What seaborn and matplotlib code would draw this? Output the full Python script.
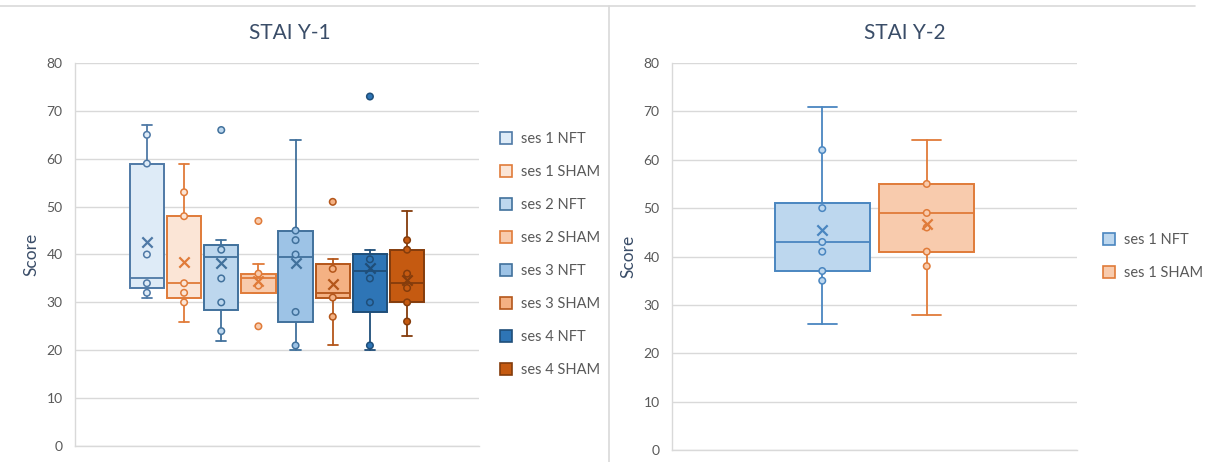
import numpy as np
import pandas as pd
import matplotlib
matplotlib.use("Agg")
import matplotlib.pyplot as plt
from matplotlib.patches import Patch
from matplotlib.lines import Line2D
import seaborn as sns

# ---------------- data ----------------
groups1 = ["ses 1 NFT", "ses 1 SHAM", "ses 2 NFT", "ses 2 SHAM",
           "ses 3 NFT", "ses 3 SHAM", "ses 4 NFT", "ses 4 SHAM"]
whislo1 = [31, 26, 22, 32, 20, 21, 20, 23]
q1_1 = [33, 31, 28.5, 32, 26, 31, 28, 30]
med1 = [35, 34, 39.5, 35, 39.5, 32, 36.5, 34]
q3_1 = [59, 48, 42, 36, 45, 38, 40, 41]
whishi1 = [67, 59, 43, 38, 64, 39, 41, 49]
mean1 = [42.7, 38.5, 38.3, 34.4, 38.3, 33.8, 37.1, 34.7]
points1 = [[65, 59, 40, 34, 32],
           [53, 48, 34, 32, 30],
           [41, 35, 30, 24],
           [36, 33.5],
           [45, 43, 40, 28, 21],
           [37, 31, 27],
           [39, 35, 30, 21],
           [43, 41, 36, 33, 30, 26]]
outliers1 = [[], [], [66], [47, 25], [], [51], [73], []]

groups2 = ["ses 1 NFT", "ses 1 SHAM"]
whislo2 = [26, 28]
q1_2 = [37, 41]
med2 = [43, 49]
q3_2 = [51, 55]
whishi2 = [71, 64]
mean2 = [45.4, 46.8]
points2 = [[62, 50, 43, 41, 37, 35],
           [55, 49, 46, 41, 38]]
outliers2 = [[], []]

# ---------------- styles ----------------
fills1 = ["#DEEBF7", "#FBE5D6", "#BDD7EE", "#F8CBAD",
          "#9DC3E6", "#F4B183", "#2E75B6", "#C55A11"]
edges1 = ["#4F79A6", "#E07B39", "#41719C", "#E07B39",
          "#41719C", "#B4561A", "#1F4E79", "#843C0C"]
fills2 = ["#BDD7EE", "#F8CBAD"]
edges2 = ["#4A86C0", "#E07B39"]

sns.set_theme(style="white")
plt.rcParams["font.family"] = ["Lato", "DejaVu Sans"]

W, H = 1205, 462
fig = plt.figure(figsize=(W / 100, H / 100), dpi=100)

TITLE_C = "#3A4D68"
TICK_C = "#595959"
GRID_C = "#D9D9D9"


def draw_panel(ax, groups, lo, q1, med, q3, hi, mean, pts, outs,
               fills, edges, slot, width):
    n = len(groups)
    pos = [(i - (n - 1) / 2) * slot for i in range(n)]
    stats = []
    for i in range(n):
        stats.append(dict(whislo=lo[i], q1=q1[i], med=med[i], q3=q3[i],
                          whishi=hi[i], fliers=[], label=groups[i]))
    bp = ax.bxp(stats, positions=pos, widths=width, patch_artist=True,
                showfliers=False, capwidths=width * 0.3, manage_ticks=False)
    for i in range(n):
        bp["boxes"][i].set(facecolor=fills[i], edgecolor=edges[i], linewidth=1.4, zorder=2)
        bp["medians"][i].set(color=edges[i], linewidth=1.3, zorder=3)
        for k in (2 * i, 2 * i + 1):
            bp["whiskers"][k].set(color=edges[i], linewidth=1.3, zorder=1)
            bp["caps"][k].set(color=edges[i], linewidth=1.3, zorder=1)
    # points (inner points and outliers)
    rows = []
    for i in range(n):
        for v in list(pts[i]) + list(outs[i]):
            rows.append(dict(x=pos[i], y=v, g=groups[i]))
    df = pd.DataFrame(rows)
    sns.scatterplot(data=df, x="x", y="y", hue="g", hue_order=groups,
                    palette=dict(zip(groups, fills)), edgecolor=None,
                    s=22, linewidth=1.0, legend=False, ax=ax, zorder=4)
    coll = ax.collections[-1]
    ec = [edges[groups.index(g)] for g in df["g"]]
    coll.set_edgecolors(ec)
    coll.set_linewidths(1.1)
    # means
    for i in range(n):
        sns.scatterplot(x=[pos[i]], y=[mean[i]], marker="x", s=55,
                        color=edges[i], linewidth=1.6, ax=ax, zorder=5,
                        legend=False)
    ax.set_xlim(-0.5, 0.5)
    ax.set_ylim(0, 80)
    ax.set_yticks(range(0, 81, 10))
    ax.set_xticks([])
    ax.set_xlabel("")
    ax.set_ylabel("Score", color=TITLE_C, fontsize=12.5, labelpad=5)
    ax.yaxis.grid(True, color=GRID_C, linewidth=1.0)
    ax.set_axisbelow(True)
    ax.tick_params(axis="y", length=0, labelsize=10, labelcolor=TICK_C, pad=9)
    for s in ("top", "right"):
        ax.spines[s].set_visible(False)
    for s in ("left", "bottom"):
        ax.spines[s].set_color(GRID_C)
        ax.spines[s].set_linewidth(1.0)
    handles = [Patch(facecolor=fills[i], edgecolor=edges[i], linewidth=1.2,
                     label=groups[i]) for i in range(n)]
    return handles


ax1 = fig.add_axes([75 / W, 1 - 446 / H, 404 / W, 383 / H])
h1 = draw_panel(ax1, groups1, whislo1, q1_1, med1, q3_1, whishi1, mean1,
                points1, outliers1, fills1, edges1, slot=0.092, width=0.085)
ax2 = fig.add_axes([672 / W, 1 - 450 / H, 405 / W, 387 / H])
h2 = draw_panel(ax2, groups2, whislo2, q1_2, med2, q3_2, whishi2, mean2,
                points2, outliers2, fills2, edges2, slot=0.258, width=0.235)

leg_kw = dict(frameon=False, fontsize=10.5, labelcolor=TICK_C, handlelength=0.85,
              handleheight=0.85, handletextpad=0.6, borderpad=0, borderaxespad=0,
              loc="center left")
fig.legend(handles=h1, bbox_to_anchor=(500 / W, 1 - 254.5 / H),
           labelspacing=1.3, **leg_kw)
fig.legend(handles=h2, bbox_to_anchor=(1103 / W, 1 - 256.5 / H),
           labelspacing=1.3, **leg_kw)

fig.text(290 / W, 1 - 33 / H, "STAI Y-1", ha="center", va="center",
         fontsize=15, color=TITLE_C)
fig.text(905 / W, 1 - 33 / H, "STAI Y-2", ha="center", va="center",
         fontsize=15, color=TITLE_C)

# chart-area borders
fig.add_artist(Line2D([0, 1195 / W], [1 - 6 / H, 1 - 6 / H],
                      transform=fig.transFigure, color="#D9D9D9", linewidth=1.2))
fig.add_artist(Line2D([609 / W, 609 / W], [0, 1 - 6 / H],
                      transform=fig.transFigure, color="#D9D9D9", linewidth=1.2))

fig.savefig("out.png", dpi=100)
